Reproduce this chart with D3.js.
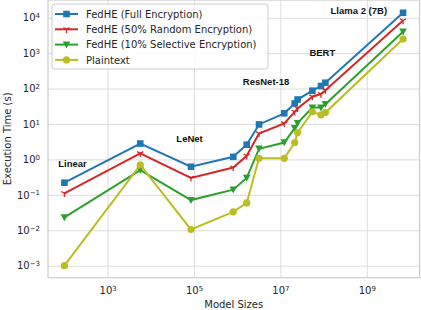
<!DOCTYPE html>
<html>
<head>
<meta charset="utf-8">
<script src="https://cdn.jsdelivr.net/npm/d3@7"></script>
<style>
  body { margin: 0; background: #fff; }
  svg { display: block; }
  text { font-family: "DejaVu Sans", sans-serif; fill: #262626; }
  .note { font-family: "Liberation Sans", Arial, sans-serif; font-weight: bold; font-size: 9.5px; fill: #111; }
</style>
</head>
<body>
<div id="vis"></div>
<script>
// model sizes (number of parameters)
var modelSizes = [100, 5700, 85000, 810000, 1.66e6, 3.2e6, 1.23e7, 2.14e7, 2.5e7, 5.5e7, 8.7e7, 1.1e8, 6.9e9];

// execution times (s)
var fullEnc   = [0.22, 2.8, 0.62, 1.18, 2.6, 9.7, 20, 38, 49, 87, 118, 146, 13800];
var randEnc50 = [0.11, 1.48, 0.30, 0.59, 1.26, 5.4, 10.4, 22, 27.6, 59, 70, 90, 8300];
var selEnc10  = [0.023, 0.50, 0.071, 0.14, 0.30, 2.0, 3.0, 7.6, 10.6, 29, 29, 36, 4000];
var plain     = [0.001, 0.7, 0.0105, 0.033, 0.059, 1.07, 1.07, 3.0, 5.7, 22, 18, 21, 2500];

var seriesNames = ["FedHE (Full Encryption)", "FedHE (50% Random Encryption)", "FedHE (10% Selective Encryption)", "Plaintext"];
var seriesColors = ["#1f77b4", "#d62728", "#2ca02c", "#bcbd22"];
var seriesMarkers = ["square", "tri", "triangle", "circle"];

var xTicks = [1e3, 1e5, 1e7, 1e9];
var yTicks = [1e-3, 1e-2, 1e-1, 1, 1e1, 1e2, 1e3, 1e4];

var noteLabels = ["Linear", "LeNet", "ResNet-18", "BERT", "Llama 2 (7B)"];
var noteX = [72, 39000, 1.35e6, 4.7e7, 1.45e8];
var noteY = [0.6, 3.2, 125, 830, 12600];

var margin = {top: 0, right: 1.5, bottom: 32.3, left: 48},
	width = 421 - margin.left - margin.right,
	height = 310 - margin.top - margin.bottom;

var x = d3.scaleLog()
	.domain([Math.pow(10, 1.62), Math.pow(10, 10.22)])
	.range([0, width]);
var y = d3.scaleLog()
	.domain([Math.pow(10, -3.34), Math.pow(10, 4.5)])
	.range([height, 0]);

var svg = d3.select("#vis").append("svg")
	.attr("width", 421)
	.attr("height", 310);
var g = svg.append("g")
	.attr("transform", "translate(" + margin.left + "," + margin.top + ")");

function pow10(d) { return Math.round(Math.log10(d)); }
function supLabel(sel) {
	sel.each(function(d) {
		var t = d3.select(this).text(null);
		t.append("tspan").text("10");
		var e = pow10(d);
		t.append("tspan")
			.attr("dy", "-0.45em")
			.attr("font-size", "7px")
			.text(e < 0 ? "\u2212" + (-e) : e);
	});
}

//grid + y axis
var yAxis = g.append("g")
	.call(d3.axisLeft(y).tickValues(yTicks).tickSize(-width).tickPadding(8));
yAxis.select(".domain").remove();
yAxis.selectAll("line").attr("stroke", "#dcdcdc").attr("stroke-width", 1);
yAxis.selectAll("text").attr("font-size", "10px").attr("fill", "#262626").call(supLabel);

//x axis
var xAxis = g.append("g")
	.attr("transform", "translate(0," + height + ")")
	.call(d3.axisBottom(x).tickValues(xTicks).tickSize(-height).tickPadding(9));
xAxis.select(".domain").remove();
xAxis.selectAll("line").attr("stroke", "#dcdcdc").attr("stroke-width", 1);
xAxis.selectAll("text").attr("font-size", "10px").attr("fill", "#262626").call(supLabel);

// frame
g.append("rect")
	.attr("width", width).attr("height", height)
	.attr("fill", "none").attr("stroke", "#cccccc").attr("stroke-width", 1.2);

var allSeries = [fullEnc, randEnc50, selEnc10, plain];

var line = d3.line()
	.x(function(d, i) { return x(modelSizes[i]); })
	.y(function(d) { return y(d); });

function drawMarker(sel, type, color) {
	if (type == "square") {
		sel.append("rect").attr("x", -3.3).attr("y", -3.3).attr("width", 6.6).attr("height", 6.6).attr("fill", color);
	} else if (type == "circle") {
		sel.append("circle").attr("r", 3.6).attr("fill", color);
	} else if (type == "triangle") {
		sel.append("path").attr("d", "M-3.8,-3.2L3.8,-3.2L0,3.8Z").attr("fill", color);
	} else {
		sel.append("path").attr("d", "M0,0L0,3.6M0,0L-3.1,-1.8M0,0L3.1,-1.8")
			.attr("stroke", color).attr("stroke-width", 1.3).attr("fill", "none");
	}
}

allSeries.forEach(function(vals, s) {
	g.append("path")
		.datum(vals)
		.attr("fill", "none")
		.attr("stroke", seriesColors[s])
		.attr("stroke-width", 2)
		.attr("d", line);
	g.selectAll(".m" + s)
		.data(vals)
		.enter().append("g")
			.attr("class", "m" + s)
			.attr("transform", function(d, i) { return "translate(" + x(modelSizes[i]) + "," + y(d) + ")"; })
			.each(function() { drawMarker(d3.select(this), seriesMarkers[s], seriesColors[s]); });
});

// annotations
g.selectAll(".note")
	.data(noteLabels)
	.enter().append("text")
		.attr("class", "note")
		.attr("x", function(d, i) { return x(noteX[i]); })
		.attr("y", function(d, i) { return y(noteY[i]); })
		.text(function(d) { return d; });

// legend
var legend = g.append("g").attr("transform", "translate(4,4)");
legend.append("rect")
	.attr("width", 216).attr("height", 65).attr("rx", 3)
	.attr("fill", "#fff").attr("fill-opacity", 0.85)
	.attr("stroke", "#cccccc").attr("stroke-width", 1);
seriesNames.forEach(function(name, s) {
	var row = legend.append("g").attr("transform", "translate(0," + (10 + s * 15.3) + ")");
	row.append("line").attr("x1", 3).attr("x2", 26).attr("stroke", seriesColors[s]).attr("stroke-width", 2);
	drawMarker(row.append("g").attr("transform", "translate(14.5,0)"), seriesMarkers[s], seriesColors[s]);
	row.append("text").attr("x", 34).attr("y", 3.6).attr("font-size", "10px").text(name);
});

// axis titles
svg.append("text")
	.attr("x", margin.left + width / 2).attr("y", 308)
	.attr("text-anchor", "middle").attr("font-size", "10px")
	.text("Model Sizes");
svg.append("text")
	.attr("transform", "translate(11," + (height / 2) + ") rotate(-90)")
	.attr("text-anchor", "middle").attr("font-size", "10px")
	.text("Execution Time (s)");
</script>
</body>
</html>
